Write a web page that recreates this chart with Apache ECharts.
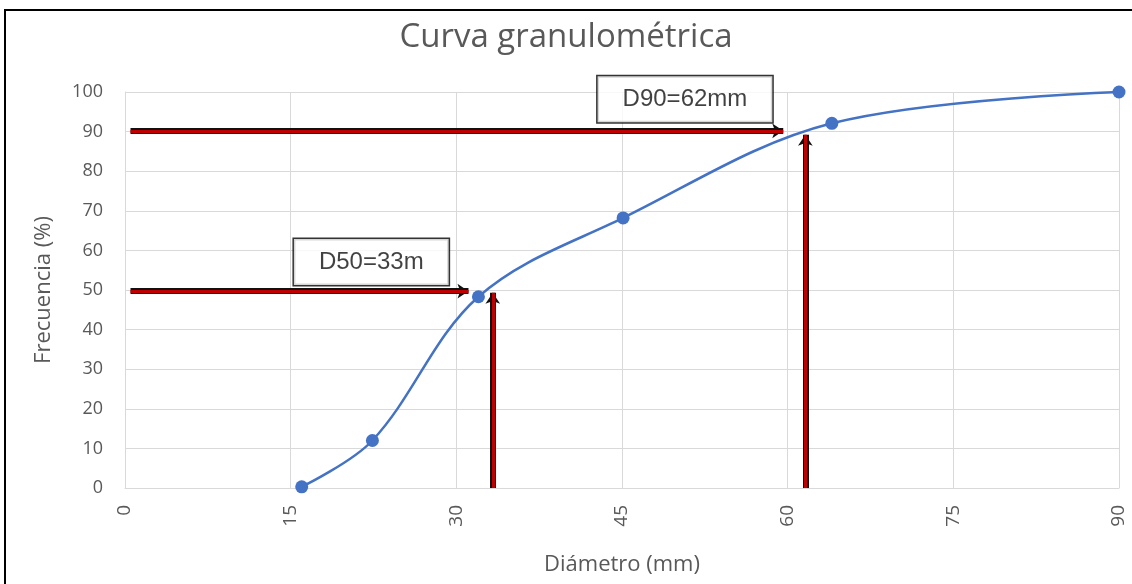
<!DOCTYPE html>
<html><head><meta charset="utf-8">
<script src="https://cdn.jsdelivr.net/npm/echarts@6/dist/echarts.min.js"></script>
<style>html,body{margin:0;padding:0;background:#fff}#c{width:1132px;height:584px}</style>
</head><body><div id="c"></div>
<script>
const diametro = [16, 22.4, 32, 45.1, 64, 90];
const frecuencia = [0.3, 12, 48.3, 68.2, 92.1, 100];
const xTicks = [0, 15, 30, 45, 60, 75, 90];
const yTicks = [0, 10, 20, 30, 40, 50, 60, 70, 80, 90, 100];
const arrowsH = [[[0.5, 90.2], [59.6, 90.2]], [[0.5, 49.7], [31.1, 49.7]]];
const arrowsV = [[[33.3, 0], [33.3, 49.3]], [[61.6, 0], [61.6, 89.2]]];
const boxes = [{ name: 'D50=33m', x: 22.3, y: 57.1 }, { name: 'D90=62mm', x: 50.7, y: 98.2 }];

const allArrows = arrowsH.concat(arrowsV).map(a => ({ coords: a }));
const chart = echarts.init(document.getElementById('c'));
chart.setOption({
  animation: false,
  title: { text: 'Curva granulométrica', left: 'center', top: 16,
    textStyle: { fontFamily: 'Open Sans', fontSize: 33, fontWeight: 'normal', color: '#595959' } },
  grid: { left: 125, right: 13, top: 92, bottom: 96, containLabel: false, outerBoundsMode: 'none' },
  xAxis: { type: 'value', min: 0, max: 90, interval: 15,
    name: 'Diámetro (mm)', nameLocation: 'middle', nameGap: 66,
    nameTextStyle: { fontFamily: 'Open Sans', fontSize: 22, color: '#595959' },
    axisLine: { show: true, lineStyle: { color: '#d9d9d9' } }, axisTick: { show: false },
    axisLabel: { rotate: 90, margin: 17, fontFamily: 'Open Sans', fontSize: 19, color: '#595959',
      formatter: v => xTicks.includes(v) ? String(v) : '' },
    splitLine: { show: true, lineStyle: { color: '#d9d9d9' } } },
  yAxis: { type: 'value', min: 0, max: 100, interval: 10,
    name: 'Frecuencia (%)', nameLocation: 'middle', nameGap: 70,
    nameTextStyle: { fontFamily: 'Open Sans', fontSize: 22, color: '#595959' },
    axisLine: { show: true, lineStyle: { color: '#d9d9d9' } }, axisTick: { show: false },
    axisLabel: { margin: 22, fontFamily: 'Open Sans', fontSize: 18, color: '#595959',
      formatter: v => yTicks.includes(v) ? String(v) : '' },
    splitLine: { show: true, lineStyle: { color: '#d9d9d9' } } },
  graphic: [{ type: 'rect', shape: { x: 5, y: 10, width: 1200, height: 700 },
    style: { fill: 'none', stroke: '#000', lineWidth: 2 }, silent: true, z: 100 }],
  series: [
    { type: 'line', data: diametro.map((d, i) => [d, frecuencia[i]]), smooth: 0.35,
      symbol: 'circle', symbolSize: 13, itemStyle: { color: '#4472c4' },
      lineStyle: { color: '#4472c4', width: 2.5 }, z: 3 },
    { type: 'lines', coordinateSystem: 'cartesian2d', data: allArrows, z: 4,
      symbol: ['none', 'arrow'], symbolSize: 11,
      lineStyle: { color: '#111', width: 6, opacity: 1 } },
    { type: 'lines', coordinateSystem: 'cartesian2d', data: allArrows, z: 5,
      symbol: ['none', 'none'],
      lineStyle: { color: '#c00000', width: 3, opacity: 1 } },
    { type: 'scatter', data: boxes.map(b => ({ name: b.name, value: [b.x, b.y] })), symbolSize: 0, z: 6,
      label: { show: true, position: 'inside', formatter: p => p.name,
        fontFamily: 'Liberation Sans', fontSize: 24, color: '#111',
        backgroundColor: '#fff', borderColor: '#000', borderWidth: 1.5,
        padding: [11, 25, 11, 25] } }
  ]
});
</script></body></html>
